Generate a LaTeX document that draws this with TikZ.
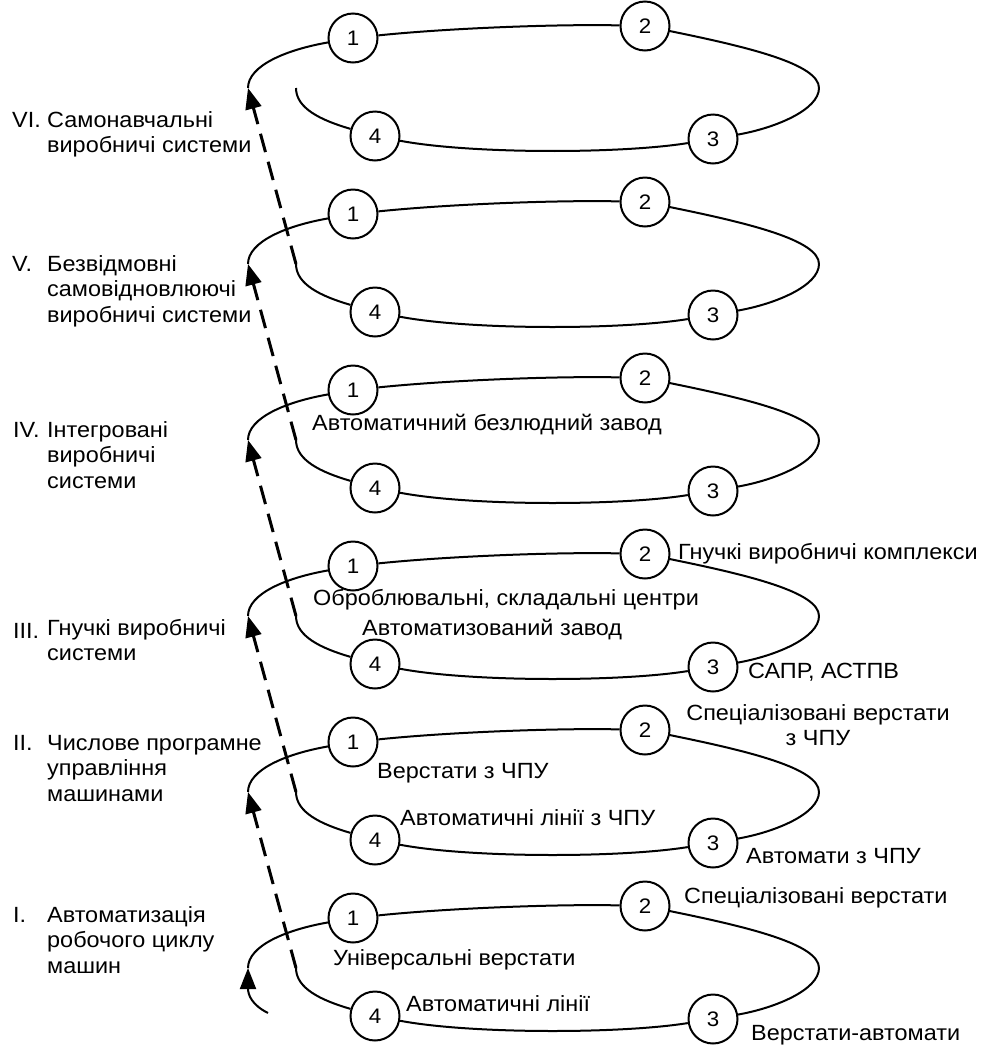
\documentclass[tikz,border=0pt]{standalone}
\usepackage{fontspec}
\setmainfont{Liberation Sans}[FakeStretch=1.065]
\usetikzlibrary{arrows.meta}
\begin{document}
\begin{tikzpicture}[x=1pt,y=-1pt,
  txt/.style={font=\fontsize{22}{25.5}\selectfont, inner sep=0pt, anchor=base west},
  stage/.style={circle, draw, line width=2pt, fill=white, minimum size=49pt,
    inner sep=0pt, font=\fontsize{21}{25}\selectfont},
  loopline/.style={line width=2pt},
  tip/.style={-{Triangle[length=21pt,width=16pt]}},
  trans/.style={line width=3pt, dash pattern=on 19pt off 10pt, tip},
]
\useasboundingbox (0,0) rectangle (982,1045);

% one spiral turn per development stage (0 = I ... 5 = VI)
\foreach \k/\y in {0/918,1/742,2/566,3/390,4/214,5/38} {
  \begin{scope}[shift={(0,\y)}]
    \node[stage] (c1-\k) at (353,0)   {1};
    \node[stage] (c2-\k) at (645,-12) {2};
    \node[stage] (c3-\k) at (713,101) {3};
    \node[stage] (c4-\k) at (375,98)  {4};
    \coordinate (L-\k) at (248,50);
    \coordinate (R-\k) at (819,50);
    \coordinate (S-\k) at (296,50);
    \draw[loopline] (L-\k) .. controls (248,28) and (285,12) .. (c1-\k);
    \draw[loopline] (c1-\k) .. controls (450,-10) and (560,-14) .. (c2-\k);
    \draw[loopline] (c2-\k) .. controls (748,9) and (819,26) .. (R-\k);
    \draw[loopline] (R-\k) .. controls (819,72) and (775,90) .. (c3-\k);
    \draw[loopline] (c3-\k) .. controls (620,116) and (470,116) .. (c4-\k);
    \draw[loopline] (c4-\k) .. controls (320,82) and (296,70) .. (S-\k);
  \end{scope}
}

% entry into the first turn
\coordinate (start) at (268,1013);
\draw[loopline, tip] (start) .. controls (252,1005) and (248,995) .. (L-0);

% transitions between stages
\foreach \k [evaluate=\k as \n using int(\k+1)] in {0,...,4} {
  \draw[trans] (S-\k) -- (L-\n);
}

% stage names
\node[txt] (n6) at (12,127) {VI.};
\node[txt] (d6) at (47,127) {\begin{tabular}[t]{@{}l@{}}Самонавчальні\\виробничі системи\end{tabular}};
\node[txt] (n5) at (12,271) {V.};
\node[txt] (d5) at (47,271) {\begin{tabular}[t]{@{}l@{}}Безвідмовні\\самовідновлюючі\\виробничі системи\end{tabular}};
\node[txt] (n4) at (13,437) {IV.};
\node[txt] (d4) at (47,437) {\begin{tabular}[t]{@{}l@{}}Інтегровані\\виробничі\\системи\end{tabular}};
\node[txt] (n3) at (13,638) {III.};
\node[txt] (d3) at (47,635) {\begin{tabular}[t]{@{}l@{}}Гнучкі виробничі\\системи\end{tabular}};
\node[txt] (n2) at (13,750) {II.};
\node[txt] (d2) at (47,750) {\begin{tabular}[t]{@{}l@{}}Числове програмне\\управління\\машинами\end{tabular}};
\node[txt] (n1) at (13,922) {I.};
\node[txt] (d1) at (47,922) {\begin{tabular}[t]{@{}l@{}}Автоматизація\\робочого циклу\\машин\end{tabular}};

% equipment of the stages
\node[txt] (e41) at (312,430) {Автоматичний безлюдний завод};
\node[txt] (e31) at (313,605) {Оброблювальні, складальні центри};
\node[txt] (e34) at (362,635) {Автоматизований завод};
\node[txt] (e32) at (678,559) {Гнучкі виробничі комплекси};
\node[txt] (e33) at (748,678) {САПР, АСТПВ};
\node[txt, anchor=base] (e22) at (818,720) {\begin{tabular}[t]{@{}c@{}}Спеціалізовані верстати\\з ЧПУ\end{tabular}};
\node[txt] (e23) at (746,863) {Автомати з ЧПУ};
\node[txt] (e21) at (377,778) {Верстати з ЧПУ};
\node[txt] (e24) at (400,825) {Автоматичні лінії з ЧПУ};
\node[txt] (e12) at (684,903) {Спеціалізовані верстати};
\node[txt] (e13) at (751,1040) {Верстати-автомати};
\node[txt] (e11) at (333,965) {Універсальні верстати};
\node[txt] (e14) at (406,1011) {Автоматичні лінії};
\end{tikzpicture}
\end{document}
